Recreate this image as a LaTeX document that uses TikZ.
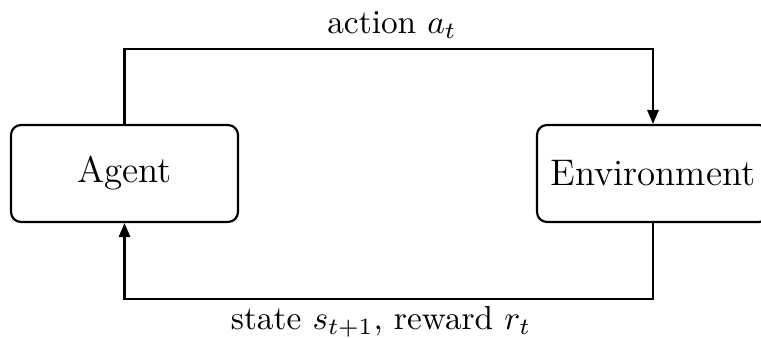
\documentclass[tikz,border=0pt]{standalone}
\usetikzlibrary{arrows.meta}
\begin{document}
\begin{tikzpicture}[x=0.3pt,y=-0.3pt,
  box/.style={draw,line width=0.65pt,rounded corners=3pt,minimum height=29.1pt,inner sep=0pt,font=\fontsize{11.1}{13}\selectfont},
  flow/.style={line width=0.65pt,-{Triangle[length=4.2pt,width=3.4pt]}},
  lbl/.style={inner sep=0pt,font=\fontsize{10}{12}\selectfont}]
\useasboundingbox (0,0) rectangle (761,338);
\node[box,minimum width=68.1pt] (agent) at (124.5,173.5) {Agent};
\node[box,minimum width=69.6pt] (env) at (653,173.5) {Environment};
\draw[flow] (agent.north) -- ++(0,-75) coordinate (tl) -| (env.north);
\draw[flow] (env.south) -- ++(0,76) coordinate (br) -| (agent.south);
\node[lbl] (act) at (392,25) {action $a_t$};
\node[lbl] (st) at (381,322) {state $s_{t+1}$, reward $r_t$};
\end{tikzpicture}
\end{document}
